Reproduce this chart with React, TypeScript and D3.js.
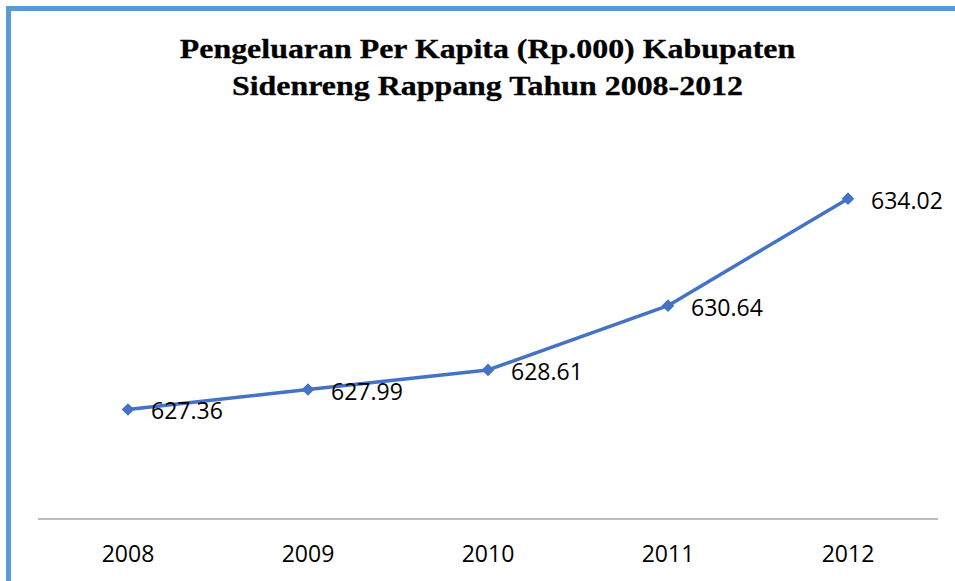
import React from 'react';
import * as d3 from 'd3';

const years = ['2008', '2009', '2010', '2011', '2012'];
const values = [627.36, 627.99, 628.61, 630.64, 634.02];
const titleLines = [
  'Pengeluaran Per Kapita (Rp.000) Kabupaten',
  'Sidenreng Rappang Tahun 2008-2012',
];

const W = 955;
const H = 581;
const BLUE_BORDER = '#5b9bd5';
const LINE_COLOR = '#4472c4';

const App: React.FC = () => {
  // plot area
  const left = 38;
  const right = 938;
  const axisY = 519;

  const x = d3.scaleBand<string>().domain(years).range([left, right]);
  const cx = (d: string) => (x(d) ?? 0) + x.bandwidth() / 2;

  const y = d3.scaleLinear().domain([623.9, 636]).range([axisY, 136]);

  const line = d3
    .line<number>()
    .x((_, i) => cx(years[i]))
    .y((d) => y(d));

  // square turned 45deg -> Excel-style diamond marker
  const diamond = d3.symbol().type(d3.symbolSquare).size(80)();

  return (
    <svg
      width={W}
      height={H}
      style={{ position: 'absolute', left: 0, top: 0, background: '#fff' }}
    >
      {/* frame (top + left edges visible) */}
      <line x1={6} x2={W} y1={8.5} y2={8.5} stroke={BLUE_BORDER} strokeWidth={5} />
      <line x1={8.5} x2={8.5} y1={6} y2={H} stroke={BLUE_BORDER} strokeWidth={5} />

      {/* title: installed serif runs narrower than Times, so widen it a bit */}
      {titleLines.map((t, i) => (
        <g key={t} transform={`translate(487.5,${58 + i * 37}) scale(1.14,1)`}>
          <text
            x={0}
            y={0}
            textAnchor="middle"
            fill="#000"
            stroke="#000"
            strokeWidth={0.3}
            style={{ fontFamily: '"Times New Roman", "Liberation Serif", serif', fontWeight: 700, fontSize: 28 }}
          >
            {t}
          </text>
        </g>
      ))}

      {/* category axis */}
      <line x1={left} x2={right} y1={axisY} y2={axisY} stroke="#a6a6a6" strokeWidth={1.5} />
      <g fontFamily="'Open Sans', sans-serif" fontSize={23} textAnchor="middle" fill="#000">
        {years.map((yr) => (
          <text key={yr} x={cx(yr)} y={562}>
            {yr}
          </text>
        ))}
      </g>

      {/* series */}
      <path d={line(values) ?? ''} fill="none" stroke={LINE_COLOR} strokeWidth={3.5} strokeLinejoin="round" />
      {values.map((v, i) => (
        <path
          key={years[i]}
          d={diamond ?? ''}
          transform={`translate(${cx(years[i])},${y(v)}) rotate(45)`}
          fill={LINE_COLOR}
        />
      ))}

      {/* data labels */}
      <g fontFamily="'Open Sans', sans-serif" fontSize={23} fill="#000">
        {values.map((v, i) => (
          <text key={years[i]} x={cx(years[i]) + 23} y={y(v) + 10}>
            {v.toFixed(2)}
          </text>
        ))}
      </g>
    </svg>
  );
};

export default App;
